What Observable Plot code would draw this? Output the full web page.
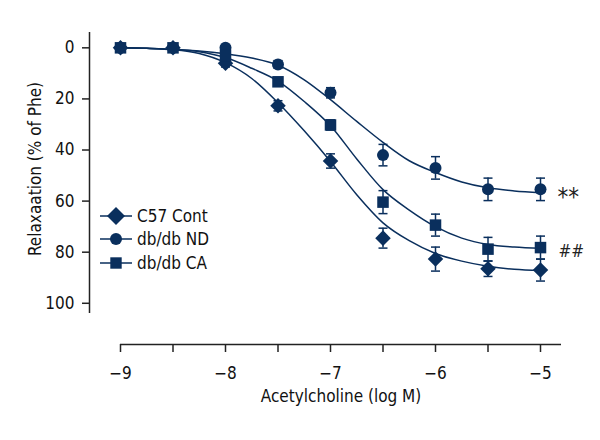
<!DOCTYPE html>
<html>
<head>
<meta charset="utf-8">
<script src="https://cdn.jsdelivr.net/npm/d3@7"></script>
<script src="https://cdn.jsdelivr.net/npm/@observablehq/plot@0.6"></script>
<style>
  html, body { margin: 0; padding: 0; background: #fff; }
  #wrap { position: relative; width: 600px; height: 440px; }
  #legend { position: absolute; left: 99px; top: 204px;
    font-family: 'Liberation Sans Narrow', 'DejaVu Sans Condensed', sans-serif; font-size: 17px; color: #111; }
  .row { display: flex; align-items: center; height: 23.5px; }
  .row svg { margin-right: 4px; }
</style>
</head>
<body>
<div id="wrap"><div id="chart"></div><div id="legend"></div></div>
<script>
// ---- data ----
const seriesNames = ["C57 Cont", "db/db ND", "db/db CA"];
const doses = [-9, -8.5, -8, -7.5, -7, -6.5, -6, -5.5, -5];
const c57Mean = [0, 0, 6, 22.7, 44.3, 74.5, 82.7, 86.5, 87];
const c57Sem  = [0.5, 0.5, 1.5, 2, 2.8, 3.9, 4.7, 3, 4.3];
const ndMean  = [0, 0, 0, 6.5, 17.6, 42, 47, 55.4, 55.4];
const ndSem   = [0.5, 0.5, 1, 1.5, 2, 4.2, 4.4, 4.4, 4.4];
const caMean  = [0, 0, 3, 13.3, 30.2, 60.4, 69.4, 78.8, 78.2];
const caSem   = [0.5, 0.5, 1, 1.5, 2, 4.5, 4.3, 4.6, 4.5];

// fitted curves at quarter-log steps
const fitDoses = [-9, -8.75, -8.5, -8.25, -8, -7.75, -7.5, -7.25, -7, -6.75, -6.5, -6.25, -6, -5.75, -5.5, -5.25, -5];
const c57Fit = [0, 0.2, 0.7, 2.2, 5.8, 12, 21.5, 32.5, 44.5, 57.5, 68.5, 75.5, 80.5, 83.5, 85.5, 86.7, 87.2];
const ndFit  = [0, 0.2, 0.7, 1.2, 2.3, 4, 6.8, 12.5, 20.3, 28.8, 37, 44.2, 48.8, 52.5, 54.8, 56, 56.7];
const caFit  = [0, 0.2, 0.6, 1.5, 3.8, 8, 13, 21, 30.5, 43.5, 55.5, 63.5, 70, 74.5, 77, 78, 78.5];

const yTicks = [0, 20, 40, 60, 80, 100];
const xTicks = [-9, -8.5, -8, -7.5, -7, -6.5, -6, -5.5, -5];
const annotations = [{label: "**", series: "db/db ND"}, {label: "##", series: "db/db CA"}];
const xLabel = "Acetylcholine (log M)";
const yLabel = "Relaxaation (% of Phe)";

// ---- build tables ----
const means = {"C57 Cont": c57Mean, "db/db ND": ndMean, "db/db CA": caMean};
const sems = {"C57 Cont": c57Sem, "db/db ND": ndSem, "db/db CA": caSem};
const fits = {"C57 Cont": c57Fit, "db/db ND": ndFit, "db/db CA": caFit};
const points = seriesNames.flatMap(s => doses.map((x, i) => ({series: s, x, y: means[s][i], e: sems[s][i]})));
const curves = seriesNames.flatMap(s => fitDoses.map((x, i) => ({series: s, x, y: fits[s][i]})));
const annos = annotations.map(a => ({...a, x: doses[doses.length - 1], y: means[a.series][doses.length - 1]}));

const navy = "#0a2f5d";
const axisColor = "#222";
const font = "'Liberation Sans Narrow', 'DejaVu Sans Condensed', sans-serif";
const symbols = {"C57 Cont": "diamond2", "db/db ND": "circle", "db/db CA": "square"};
const radii = {"C57 Cont": 7, "db/db ND": 6, "db/db CA": 6.5};

const capSymbol = { draw(ctx, size) { const r = 4.5; ctx.moveTo(-r, 0); ctx.lineTo(r, 0); } };
const fmt = d3.format("d");

const chart = Plot.plot({
  width: 600, height: 440,
  marginLeft: 120, marginRight: 39, marginTop: 32, marginBottom: 127,
  style: {fontFamily: font, fontSize: "17px", color: "#111", background: "#fff"},
  x: {domain: [-9, -4.8]},
  y: {domain: [-6, 104], reverse: true},
  marks: [
    Plot.ruleX([-9], {y1: -6, y2: 104, dx: -31, stroke: axisColor, strokeWidth: 1.5}),
    Plot.ruleY([104], {x1: -9, x2: -4.8, dy: 31, stroke: axisColor, strokeWidth: 1.5}),
    Plot.axisY({ticks: yTicks, tickSize: 7, tickPadding: 8, dx: -31, label: null, stroke: axisColor, strokeWidth: 1.5, tickFormat: fmt}),
    Plot.axisX({ticks: xTicks, tickSize: 8, tickPadding: 14, dy: 31, label: null, stroke: axisColor, strokeWidth: 1.5,
      tickFormat: d => Number.isInteger(d) ? fmt(d) : ""}),
    Plot.text([yLabel], {frameAnchor: "left", textAnchor: "middle", rotate: -90, dx: -85, dy: -4, text: d => d}),
    Plot.text([xLabel], {frameAnchor: "bottom", dy: 88, text: d => d}),
    Plot.line(curves, {x: "x", y: "y", z: "series", stroke: navy, strokeWidth: 1.5, curve: "monotone-x"}),
    Plot.ruleX(points, {x: "x", y1: d => d.y - d.e, y2: d => d.y + d.e, stroke: navy, strokeWidth: 1.5}),
    Plot.dot(points, {x: "x", y: d => d.y - d.e, symbol: () => capSymbol, stroke: navy, strokeWidth: 1.5, fill: "none", r: 4}),
    Plot.dot(points, {x: "x", y: d => d.y + d.e, symbol: () => capSymbol, stroke: navy, strokeWidth: 1.5, fill: "none", r: 4}),
    ...seriesNames.map(s => Plot.dot(points.filter(d => d.series === s),
      {x: "x", y: "y", symbol: () => symbols[s], r: radii[s], fill: navy, stroke: "none"})),
    Plot.text(annos.filter(a => a.label === "**"), {x: "x", y: "y", text: "label", dx: 17, dy: 8, textAnchor: "start", fontSize: 24, fill: "#222"}),
    Plot.text(annos.filter(a => a.label === "##"), {x: "x", y: "y", text: "label", dx: 18, dy: 4, textAnchor: "start", fontSize: 17, fill: "#222"})
  ]
});
document.getElementById("chart").appendChild(chart);

// legend
const legendSyms = {
  "C57 Cont": '<path d="M17 1 L26 10 L17 19 L8 10 Z"/>',
  "db/db ND": '<circle cx="17" cy="10" r="6"/>',
  "db/db CA": '<rect x="11.3" y="4.3" width="11.4" height="11.4"/>'
};
const legend = document.getElementById("legend");
seriesNames.forEach(s => {
  const row = document.createElement("div");
  row.className = "row";
  row.innerHTML = `<svg width="34" height="20" viewBox="0 0 34 20"><line x1="1" x2="33" y1="10" y2="10" stroke="${navy}" stroke-width="1.5"/><g fill="${navy}">${legendSyms[s]}</g></svg><span>${s}</span>`;
  legend.appendChild(row);
});
</script>
</body>
</html>
